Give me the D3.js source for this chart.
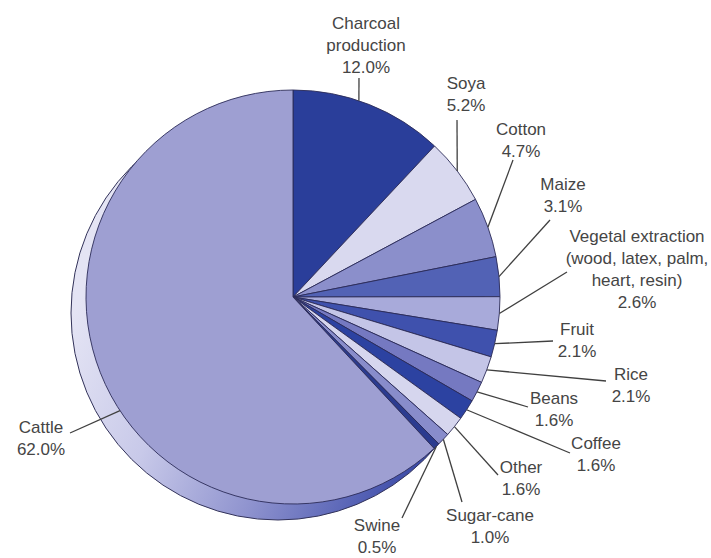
<!DOCTYPE html>
<html>
<head>
<meta charset="utf-8">
<script src="https://cdn.jsdelivr.net/npm/d3@7"></script>
<style>
  body { margin: 0; background: #fff; }
  text { font-family: "Liberation Sans", Arial, sans-serif; font-size: 17px; fill: #454545; }
</style>
</head>
<body>
<script>
var svgWidth = 711;
var svgHeight = 558;

// slices, clockwise from 12 o'clock
var categories = ["Charcoal production", "Soya", "Cotton", "Maize",
  "Vegetal extraction (wood, latex, palm, heart, resin)", "Fruit", "Rice",
  "Beans", "Coffee", "Other", "Sugar-cane", "Swine", "Cattle"];
var values = [12.0, 5.2, 4.7, 3.1, 2.6, 2.1, 2.1, 1.6, 1.6, 1.6, 1.0, 0.5, 62.0];
var labelLines = [
  ["Charcoal", "production"], ["Soya"], ["Cotton"], ["Maize"],
  ["Vegetal extraction", "(wood, latex, palm,", "heart, resin)"],
  ["Fruit"], ["Rice"], ["Beans"], ["Coffee"], ["Other"], ["Sugar-cane"], ["Swine"], ["Cattle"]
];

var colors = ["#2a3e9a", "#d9d9ef", "#8b8fcb", "#5262b5", "#a8aada", "#3f51ad",
  "#c4c5e7", "#7579c1", "#2c42a1", "#d6d6ee", "#888ccb", "#2b3b8f", "#9e9fd2"];

// label layout: text centre x, first baseline y, leader outer end, position on slice (0..1)
var labelLayout = [
  {x: 366, y: 29, lx: 359, ly: 78, t: 0.43},
  {x: 466, y: 89, lx: 457, ly: 120, t: 0.5},
  {x: 521, y: 135, lx: 513, ly: 160, t: 0.5},
  {x: 563, y: 190, lx: 550, ly: 220, t: 0.5},
  {x: 637, y: 242, lx: 567, ly: 272, t: 0.5},
  {x: 577, y: 335, lx: 553, ly: 341, t: 0.5},
  {x: 631, y: 380, lx: 606, ly: 381, t: 0.5},
  {x: 554, y: 404, lx: 528, ly: 407, t: 0.5},
  {x: 596, y: 449, lx: 570, ly: 453, t: 0.5},
  {x: 521, y: 473, lx: 498, ly: 475, t: 0.5},
  {x: 490, y: 521, lx: 462, ly: 502, t: 0.5},
  {x: 377, y: 531, lx: 402, ly: 518, t: 0.5},
  {x: 41, y: 433, lx: 70, ly: 433, t: 0.447}
];

var cx = 293, cy = 297, radius = 207;
var depth = {dx: -15, dy: 16};
var lineH = 22;

var svg = d3.select("body")
  .append("svg")
  .attr("width", svgWidth)
  .attr("height", svgHeight);

// gradient for the visible side of the disk (page coords, drawn without a transform)
var grad = svg.append("defs").append("linearGradient")
  .attr("id", "sideGrad")
  .attr("gradientUnits", "userSpaceOnUse")
  .attr("x1", 80).attr("y1", 300)
  .attr("x2", 440).attr("y2", 460);
grad.append("stop").attr("offset", 0).attr("stop-color", "#e4e4f4");
grad.append("stop").attr("offset", 0.3).attr("stop-color", "#c8c9e9");
grad.append("stop").attr("offset", 0.6).attr("stop-color", "#9094cf");
grad.append("stop").attr("offset", 0.88).attr("stop-color", "#4f5cb2");
grad.append("stop").attr("offset", 1).attr("stop-color", "#2f3f9e");

var data = categories.map(function(c, i) {
  return {name: c, value: values[i], lines: labelLines[i], color: colors[i], layout: labelLayout[i]};
});

var pie = d3.pie()
  .sort(null)
  .value(d => d.value);

var arc = d3.arc()
  .innerRadius(0)
  .outerRadius(radius);

var arcs = pie(data);

// side of the disk (offset copy behind)
svg.append("circle")
  .attr("cx", cx + depth.dx)
  .attr("cy", cy + depth.dy)
  .attr("r", radius)
  .attr("fill", "url(#sideGrad)")
  .attr("stroke", "#33335a")
  .attr("stroke-width", 1);

var pieGroup = svg.append("g")
  .attr("transform", `translate(${cx}, ${cy})`);

pieGroup.selectAll("path.slice")
  .data(arcs)
  .enter()
  .append("path")
  .attr("class", "slice")
  .attr("d", arc)
  .attr("fill", d => d.data.color)
  .attr("stroke", "#2b2b58")
  .attr("stroke-width", 0.9)
  .attr("stroke-linejoin", "round");

// leader lines
svg.selectAll("line.leader")
  .data(arcs)
  .enter()
  .append("line")
  .attr("class", "leader")
  .attr("x1", d => d.data.layout.lx)
  .attr("y1", d => d.data.layout.ly)
  .attr("x2", function(d) {
    var a = d.startAngle + (d.endAngle - d.startAngle) * d.data.layout.t;
    return cx + radius * Math.sin(a);
  })
  .attr("y2", function(d) {
    var a = d.startAngle + (d.endAngle - d.startAngle) * d.data.layout.t;
    return cy - radius * Math.cos(a);
  })
  .attr("stroke", "#404040")
  .attr("stroke-width", 1.3);

// labels
var labels = svg.selectAll("text.label")
  .data(data)
  .enter()
  .append("text")
  .attr("class", "label")
  .attr("text-anchor", "middle")
  .attr("x", d => d.layout.x)
  .attr("y", d => d.layout.y);

labels.each(function(d) {
  var t = d3.select(this);
  var lines = d.lines.concat([d.value.toFixed(1) + "%"]);
  lines.forEach(function(line, i) {
    t.append("tspan")
      .attr("x", d.layout.x)
      .attr("y", d.layout.y + i * lineH)
      .text(line);
  });
});
</script>
</body>
</html>
